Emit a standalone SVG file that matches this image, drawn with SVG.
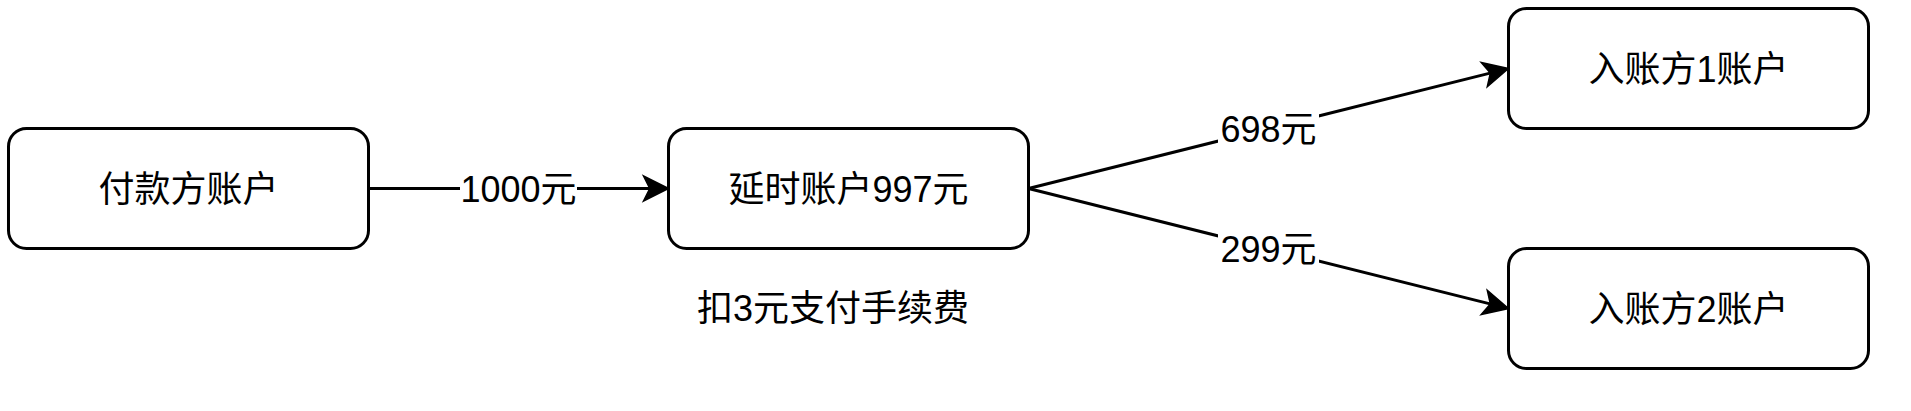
<svg xmlns="http://www.w3.org/2000/svg" width="1911" height="411" viewBox="0 0 1911 411">
  <style>
    .box { fill: #ffffff; stroke: #000000; stroke-width: 3; }
    .lbl { font-family: "Liberation Sans", "Noto Sans CJK SC", sans-serif; font-size: 36px; fill: #000000; text-anchor: middle; }
    .edge { stroke: #000000; stroke-width: 3; fill: none; }
    .lblbg { fill: #ffffff; }
  </style>
  <defs>
    <marker id="arrow" markerUnits="userSpaceOnUse" viewBox="-10 -15 30 30" markerWidth="30" markerHeight="30" refX="0" refY="0" orient="auto" overflow="visible">
      <path d="M18,0 L-7,-12.5 L-0.75,0 L-7,12.5 Z" fill="#000000" stroke="#000000" stroke-width="1.5" stroke-linejoin="miter"/>
    </marker>
  </defs>
  <rect width="1911" height="411" fill="#ffffff"/>

  <g id="connectors">
    <line class="edge" x1="368.5" y1="188.5" x2="650.5" y2="188.5" marker-end="url(#arrow)"/>
    <line class="edge" x1="1028.5" y1="188.5" x2="1491.04" y2="72.87" marker-end="url(#arrow)"/>
    <line class="edge" x1="1028.5" y1="188.5" x2="1491.04" y2="304.13" marker-end="url(#arrow)"/>
    <g id="edge-labels">
      <rect class="lblbg" x="460" y="169" width="117" height="40"/>
      <text class="lbl" x="518.5" y="201.5">1000元</text>
      <rect class="lblbg" x="1218" y="109" width="101" height="40"/>
      <text class="lbl" x="1268.5" y="141.5">698元</text>
      <rect class="lblbg" x="1218" y="229" width="101" height="40"/>
      <text class="lbl" x="1268.5" y="261.5">299元</text>
    </g>
  </g>

  <g id="node-payer">
    <rect class="box" x="8.5" y="128.5" width="360" height="120" rx="18" ry="18"/>
    <text class="lbl" x="188.5" y="201.5">付款方账户</text>
  </g>
  <g id="node-delay">
    <rect class="box" x="668.5" y="128.5" width="360" height="120" rx="18" ry="18"/>
    <text class="lbl" x="848.5" y="201.5">延时账户997元</text>
  </g>
  <g id="node-fee-note">
    <text class="lbl" x="833" y="321">扣3元支付手续费</text>
  </g>
  <g id="node-payee1">
    <rect class="box" x="1508.5" y="8.5" width="360" height="120" rx="18" ry="18"/>
    <text class="lbl" x="1688.5" y="81.5">入账方1账户</text>
  </g>
  <g id="node-payee2">
    <rect class="box" x="1508.5" y="248.5" width="360" height="120" rx="18" ry="18"/>
    <text class="lbl" x="1688.5" y="321.5">入账方2账户</text>
  </g>
</svg>
